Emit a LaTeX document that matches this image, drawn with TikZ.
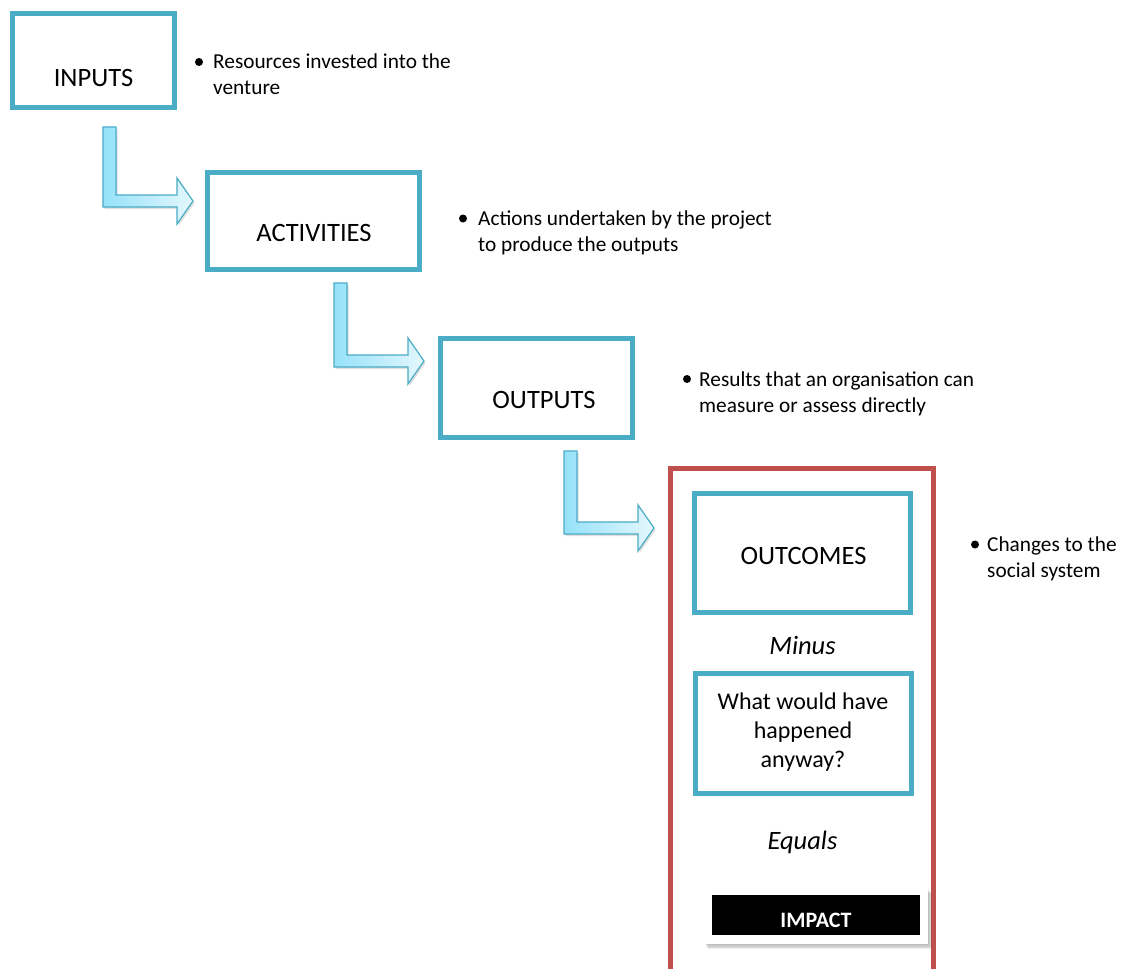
\documentclass[tikz,border=0pt]{standalone}
\usepackage{fontspec}
\setmainfont{Carlito}
\usetikzlibrary{shadows}
\definecolor{boxblue}{RGB}{75,172,198}
\definecolor{boxred}{RGB}{192,80,77}
\definecolor{arrowL}{RGB}{150,226,249}
\definecolor{arrowR}{RGB}{228,247,253}
\tikzset{
  stagebox/.style={draw=boxblue, line width=5pt, fill=white, inner sep=0pt},
  stagetext/.style={font=\fontsize{26.5}{30}\selectfont, anchor=base, inner sep=0pt, align=center},
  bullettext/.style={font=\fontsize{21.3}{26}\selectfont, anchor=base west, align=left, inner sep=0pt},
  bulletdot/.style={circle, fill=black, inner sep=0pt, minimum size=8pt},
  blockarrow/.style={draw=boxblue, line width=1.2pt, left color=arrowL, right color=arrowR, line join=miter,
    drop shadow={opacity=0.25, shadow xshift=1.5pt, shadow yshift=-2pt}},
  opword/.style={font=\fontsize{26.5}{30}\selectfont\itshape, anchor=base, inner sep=0pt},
  softshadow/.style={fill=black, fill opacity=0.07, draw=none, minimum width=224, minimum height=56, inner sep=0pt},
}
\newcommand{\bentarrow}[3]{%
  \path[blockarrow] (#1,#2) -- (#1+13,#2) -- (#1+13,#3) -- (#1+74,#3) -- (#1+74,#3-17)
    -- (#1+90,#3+6) -- (#1+74,#3+29) -- (#1+74,#3+12) -- (#1,#3+12) -- cycle;}
\begin{document}
\begin{tikzpicture}[x=1pt,y=-1pt]
\useasboundingbox[fill=white] (0,0) rectangle (1133,969);

% red frame
\draw[boxred, line width=5pt] (670,969) -- (670,468.5) -- (933.5,468.5) -- (933.5,969);

% arrows
\bentarrow{103}{127}{195}
\bentarrow{334}{283}{355}
\bentarrow{564}{451}{522}

% stage boxes
\node[stagebox, minimum width=162, minimum height=94] (inputs) at (93.5,60.5) {};
\node[stagetext] (inputst) at (93.5,86) {INPUTS};

\node[stagebox, minimum width=212, minimum height=97] (activities) at (313.5,221) {};
\node[stagetext] (activitiest) at (314,241) {ACTIVITIES};

\node[stagebox, minimum width=192, minimum height=99] (outputs) at (536.5,388) {};
\node[stagetext] (outputst) at (544,408) {OUTPUTS};

\node[stagebox, minimum width=216, minimum height=119.5] (outcomes) at (802.5,553) {};
\node[stagetext] (outcomest) at (803.5,564) {OUTCOMES};

\node[opword] (minus) at (802.5,654) {Minus};

\node[stagebox, minimum width=216, minimum height=120] (anyway) at (803,733) {};
\node[stagetext, font=\fontsize{24}{29}\selectfont] (anywayt) at (803,767) {What would have\\happened\\anyway?};

\node[opword] (equals) at (802.5,849) {Equals};

% impact
\node[softshadow] (sh1) at (817,917) {};
\node[softshadow] (sh2) at (818,918.5) {};
\node[softshadow] (sh3) at (819,920) {};
\node[softshadow] (sh4) at (819.5,921) {};
\node[fill=white, minimum width=224, minimum height=56, inner sep=0pt] (impactframe) at (816,915.5) {};
\node[fill=black, minimum width=208, minimum height=40, inner sep=0pt] (impactbar) at (816,915) {};
\node[font=\fontsize{22}{26}\selectfont\bfseries, text=white, anchor=base, inner sep=0pt] (impact) at (816,927) {IMPACT};

% bullets
\node[bulletdot] (b1dot) at (199,62) {};
\node[bullettext] (b1) at (213,94) {Resources invested into the\\venture};
\node[bulletdot] (b2dot) at (463,218.5) {};
\node[bullettext] (b2) at (478,251) {Actions undertaken by the project\\to produce the outputs};
\node[bulletdot] (b3dot) at (687,379) {};
\node[bullettext] (b3) at (699,412) {Results that an organisation can\\measure or assess directly};
\node[bulletdot] (b4dot) at (975,544.5) {};
\node[bullettext] (b4) at (987,577) {Changes to the\\social system};
\end{tikzpicture}
\end{document}
